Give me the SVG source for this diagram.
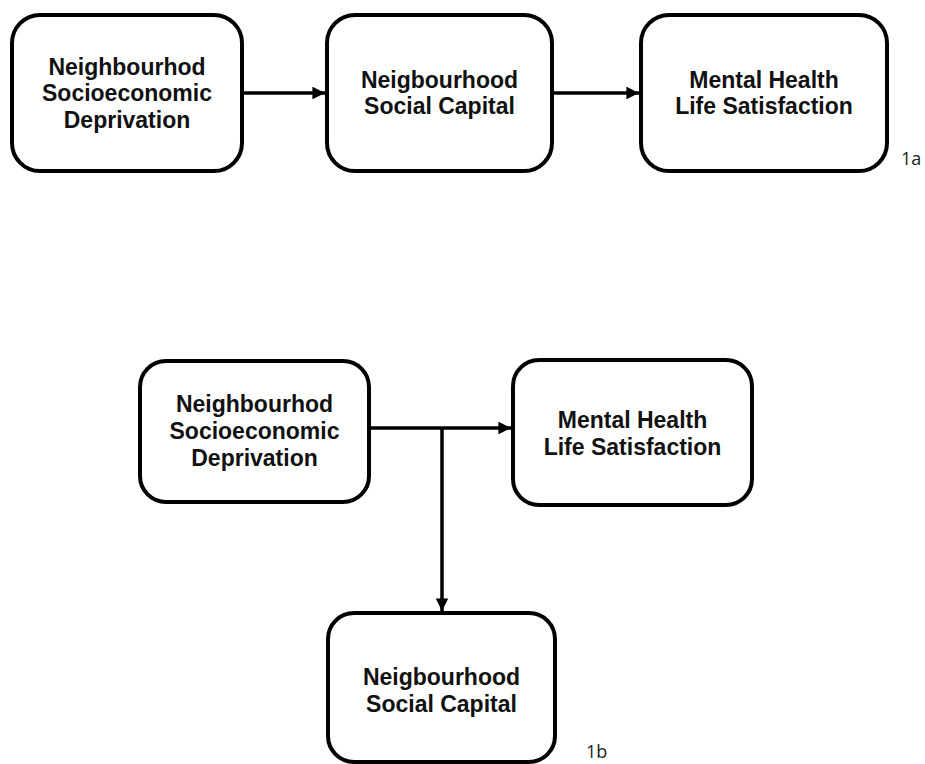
<svg xmlns="http://www.w3.org/2000/svg" width="925" height="764" viewBox="0 0 925 764">
<style>
.box{fill:#fff;stroke:#000;stroke-width:4}
.t{font-family:"Liberation Sans",Arial,sans-serif;font-weight:bold;font-size:23px;fill:#111;text-anchor:middle}
.lbl{font-family:"Open Sans","Liberation Sans",sans-serif;font-size:18px;fill:#222}
.c{stroke:#000;stroke-width:3.5;fill:none}
</style>
<defs>
<marker id="ah" viewBox="0 0 10 10" refX="10" refY="5" markerWidth="4.2" markerHeight="3.6" orient="auto" markerUnits="strokeWidth">
<path d="M0,0 L10,5 L0,10 z" fill="#000"/>
</marker>
</defs>
<rect width="925" height="764" fill="#fff"/>
<g id="connectors">
<line class="c" x1="242" y1="93" x2="325" y2="93" marker-end="url(#ah)"/>
<line class="c" x1="552" y1="93" x2="639" y2="93" marker-end="url(#ah)"/>
<line class="c" x1="369" y1="428" x2="511" y2="428" marker-end="url(#ah)"/>
<line class="c" x1="442" y1="428" x2="442" y2="611" marker-end="url(#ah)"/>
</g>
<g id="n1a">
<rect class="box" x="12" y="15" width="230" height="156" rx="28"/>
<text class="t" x="127" y="75">Neighbourhod</text>
<text class="t" x="127" y="101">Socioeconomic</text>
<text class="t" x="127" y="128">Deprivation</text>
</g>
<g id="n2a">
<rect class="box" x="327" y="15" width="225" height="156" rx="28"/>
<text class="t" x="439.5" y="88">Neigbourhood</text>
<text class="t" x="439.5" y="114">Social Capital</text>
</g>
<g id="n3a">
<rect class="box" x="641" y="15" width="246" height="156" rx="28"/>
<text class="t" x="764" y="88">Mental Health</text>
<text class="t" x="764" y="114">Life Satisfaction</text>
</g>
<text class="lbl" x="901" y="165">1a</text>
<g id="n1b">
<rect class="box" x="140" y="361" width="229" height="141" rx="26"/>
<text class="t" x="254.5" y="412">Neighbourhod</text>
<text class="t" x="254.5" y="439">Socioeconomic</text>
<text class="t" x="254.5" y="466">Deprivation</text>
</g>
<g id="n2b">
<rect class="box" x="513" y="360" width="239" height="145" rx="26"/>
<text class="t" x="632.5" y="428">Mental Health</text>
<text class="t" x="632.5" y="455">Life Satisfaction</text>
</g>
<g id="n3b">
<rect class="box" x="328" y="613" width="227" height="149" rx="26"/>
<text class="t" x="441.5" y="685">Neigbourhood</text>
<text class="t" x="441.5" y="712">Social Capital</text>
</g>
<text class="lbl" x="586" y="758">1b</text>
</svg>
